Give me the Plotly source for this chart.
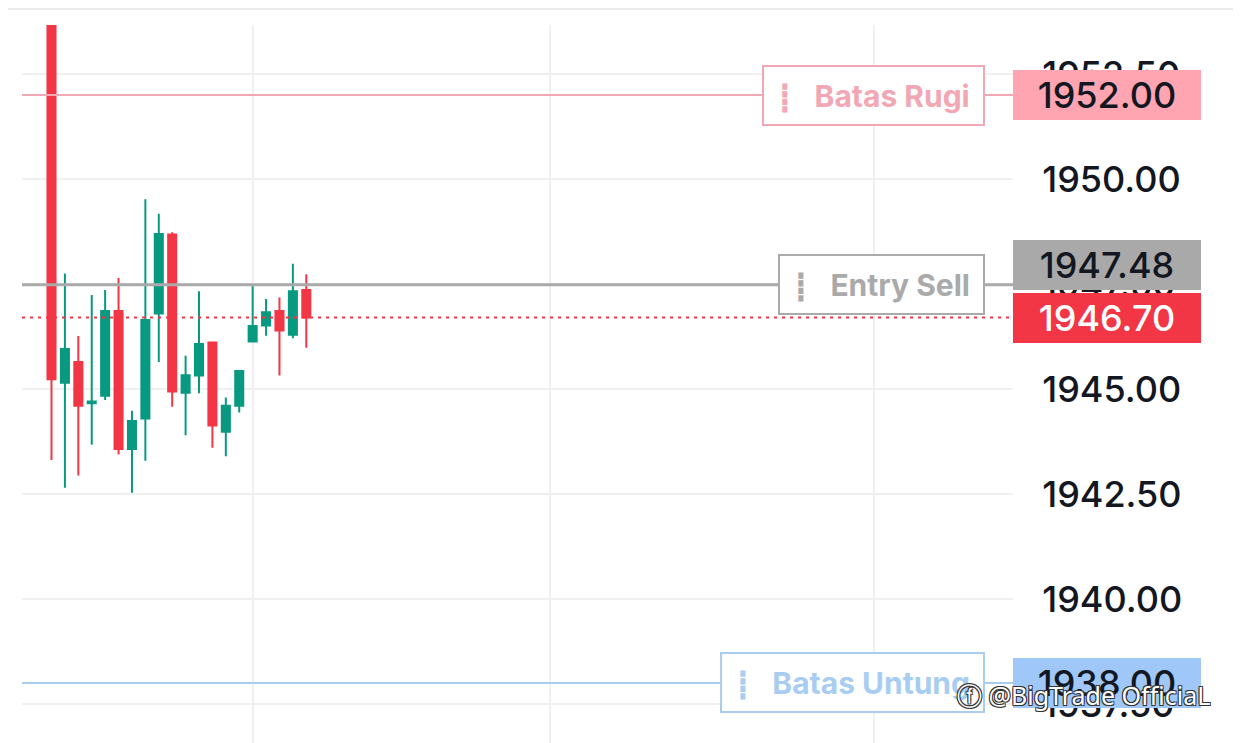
import plotly.graph_objects as go

# ---- data ----
idx = list(range(20))
opens = [1955.20, 1945.15, 1945.64, 1944.66, 1944.84, 1946.86, 1943.57, 1944.30, 1946.80, 1948.68,
         1944.91, 1945.32, 1946.11, 1943.98, 1944.60, 1946.13, 1946.51, 1946.86, 1946.29, 1947.36]
highs = [1955.60, 1947.75, 1946.26, 1947.24, 1947.36, 1947.64, 1944.48, 1949.52, 1949.17, 1948.73,
         1945.79, 1947.33, 1946.12, 1944.80, 1945.43, 1947.49, 1947.14, 1947.18, 1947.98, 1947.73]
lows = [1943.31, 1942.65, 1942.94, 1943.67, 1944.74, 1943.44, 1942.53, 1943.29, 1945.64, 1944.58,
        1943.90, 1944.90, 1943.60, 1943.40, 1944.44, 1946.13, 1946.27, 1945.32, 1946.21, 1945.98]
closes = [1945.23, 1945.95, 1944.60, 1944.70, 1946.86, 1943.57, 1944.24, 1946.64, 1948.69, 1944.94,
          1945.33, 1946.07, 1944.13, 1944.60, 1945.43, 1946.50, 1946.83, 1946.39, 1947.33, 1946.70]

y_ticks = [1937.5, 1940.0, 1942.5, 1945.0, 1947.5, 1950.0, 1952.5]
x_grid = [15, 37.2, 61.3]

line_names = ["Batas Rugi", "Entry Sell", "Batas Untung"]
line_prices = [1952.00, 1947.48, 1938.00]
line_colors = ["#F2A7B5", "#AAAAAA", "#A8CDF0"]
label_bgs = ["#FFA4B1", "#A9A9A9", "#9FC7F8"]
line_widths = [2, 3, 2]
box_widths = [219, 203, 261]
label_shift = [0, 20, 0]

last_price = closes[-1]

GREEN = "#089981"
RED = "#F23645"
FONT = "Inter"

fig = go.Figure()
fig.add_trace(go.Candlestick(
    x=idx, open=opens, high=highs, low=lows, close=closes,
    increasing=dict(line=dict(color=GREEN, width=2), fillcolor=GREEN),
    decreasing=dict(line=dict(color=RED, width=2), fillcolor=RED),
    whiskerwidth=0, showlegend=False, hoverinfo="none",
))

shapes = []
annotations = []

# top separator line
shapes.append(dict(type="line", xref="paper", yref="paper", x0=-0.03, x1=1.25, y0=1.0223, y1=1.0223,
                   line=dict(color="#EBEBEB", width=2), layer="above"))

for name, p, c, bg, w, bw, sh in zip(line_names, line_prices, line_colors, label_bgs,
                                      line_widths, box_widths, label_shift):
    shapes.append(dict(type="line", xref="paper", yref="y", x0=0, x1=1, y0=p, y1=p,
                       line=dict(color=c, width=w), layer="above"))
    annotations.append(dict(
        xref="paper", yref="y", x=0.9718, y=p, xanchor="right", yanchor="middle",
        text="<b><span style='font-size:26px'>┋</span>&nbsp;&nbsp;&nbsp;" + name + "</b>",
        showarrow=False,
        font=dict(family=FONT, size=30, color=c),
        bgcolor="white", bordercolor=c, borderwidth=2, borderpad=0,
        width=bw, height=57, align="center"))
    annotations.append(dict(
        xref="paper", yref="y", x=1.0, y=p, xanchor="left", yanchor="middle", yshift=sh,
        text=f"{p:.2f}", showarrow=False,
        font=dict(family=FONT, size=36, color="#131722", weight=500),
        bgcolor=bg, borderwidth=0, borderpad=0, width=188, height=50, align="center"))

# last price dotted line and label
shapes.append(dict(type="line", xref="paper", yref="y", x0=0, x1=1, y0=last_price, y1=last_price,
                   line=dict(color=RED, width=2, dash="3px,5px"), layer="above"))
annotations.append(dict(
    xref="paper", yref="y", x=1.0, y=last_price, xanchor="left", yanchor="middle",
    text=f"{last_price:.2f}", showarrow=False,
    font=dict(family=FONT, size=36, color="white", weight=500),
    bgcolor=RED, borderwidth=0, borderpad=0, width=188, height=50, align="center"))

# watermark
annotations.append(dict(
    xref="paper", yref="paper", x=0.9415, y=0.067, xanchor="left", yanchor="middle",
    text="ⓕ @BigTrade OfficiaL", showarrow=False,
    font=dict(family="Noto Sans", size=25, color="white",
              shadow="-1px -1px 0 #333, 1px -1px 0 #333, -1px 1px 0 #333, 1px 1px 0 #333")))

fig.update_layout(
    width=1233, height=735,
    margin=dict(l=14, r=228, t=17, b=0),
    paper_bgcolor="white", plot_bgcolor="white",
    boxgap=0.4, boxgroupgap=0,
    shapes=shapes, annotations=annotations,
    xaxis=dict(range=[-2.2, 71.7], tickvals=x_grid, ticktext=["", "", ""], showgrid=True,
               gridcolor="#F0F0F0", gridwidth=2, zeroline=False, showline=False,
               rangeslider=dict(visible=False), fixedrange=True),
    yaxis=dict(range=[1936.571, 1953.667], side="right", tickvals=y_ticks, tickformat=".2f",
               showgrid=True, gridcolor="#F0F0F0", gridwidth=2, zeroline=False, showline=False,
               ticks="outside", ticklen=21, tickcolor="rgba(0,0,0,0)",
               tickfont=dict(family=FONT, size=36, color="#131722", weight=500)),
)

fig.write_html("out.html")
